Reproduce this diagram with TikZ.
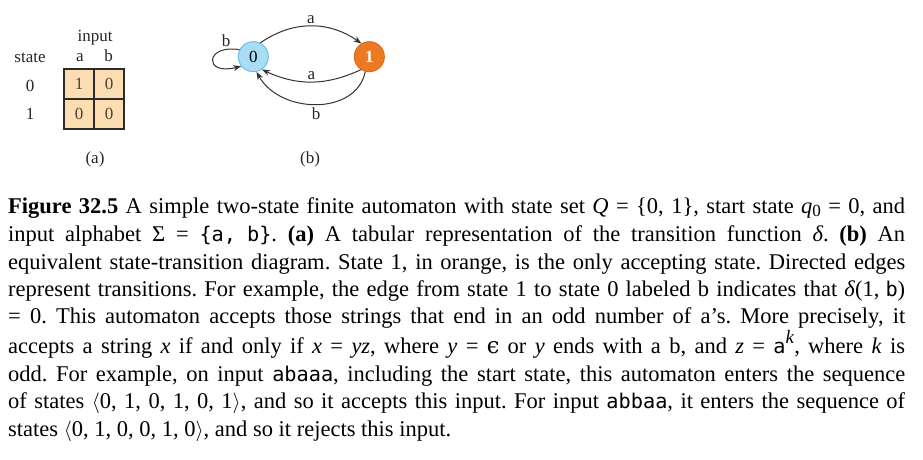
\documentclass[tikz,border=0pt]{standalone}
\usepackage{fontspec}
\setmainfont{Liberation Serif}
\newfontfamily\monof[Scale=0.9]{DejaVu Sans Mono}
\newfontfamily\epsfont{DejaVu Serif}
\usetikzlibrary{arrows.meta}
\definecolor{tablefill}{HTML}{FBDDB1}
\definecolor{gridline}{HTML}{2B2B2B}
\definecolor{celltext}{HTML}{4A4236}
\definecolor{bluefill}{HTML}{A9DDF4}
\definecolor{blueedge}{HTML}{6CC0E4}
\definecolor{orangefill}{HTML}{EC7A22}
\definecolor{orangeedge}{HTML}{DD6A18}
\definecolor{edgecol}{HTML}{333333}
\newcommand{\mono}[1]{{\monof #1}}
\newcommand{\qsub}[1]{\raisebox{-0.35ex}{\fontsize{17}{17}\selectfont #1}}
\newcommand{\kexp}[1]{\raisebox{0.9ex}{\fontsize{19}{19}\selectfont\textit{#1}}}
\newcommand{\fullline}[1]{\makebox[897pt][s]{#1}}
\frenchspacing
\begin{document}
\begin{tikzpicture}[x=1pt,y=-1pt,
  capline/.style={anchor=base west, inner sep=0pt, font=\fontsize{22.5}{27}\selectfont\frenchspacing},
  lbl/.style={anchor=base, inner sep=0pt, font=\fontsize{17}{20}\selectfont, text=black!85},
  cell/.style={draw=gridline, line width=1.6pt, fill=tablefill, minimum size=30pt, inner sep=0pt, font=\fontsize{17}{20}\selectfont, text=celltext},
  statezero/.style={circle, draw=blueedge, fill=bluefill, line width=1pt, minimum size=30pt, inner sep=0pt, font=\fontsize{17}{20}\selectfont},
  stateone/.style={circle, draw=orangeedge, fill=orangefill, line width=1pt, minimum size=30pt, inner sep=0pt, font=\fontsize{17}{20}\selectfont\bfseries, text=white},
  edge/.style={draw=edgecol, line width=1pt, -{Stealth[length=8pt,width=6pt]}},
  elbl/.style={inner sep=0pt, font=\fontsize{17}{20}\selectfont, text=black!85}
]
\useasboundingbox (0,0) rectangle (923,459);

% (a) table
\node[lbl] (input) at (95,41.5) {input};
\node[lbl] (state) at (30,62.5) {state};
\node[lbl] (ha) at (80,61) {a};
\node[lbl] (hb) at (108.5,61) {b};
\node[lbl] (r0) at (30,91.5) {0};
\node[lbl] (r1) at (30,119.5) {1};
\node[cell] (c00) at (79,84) {1};
\node[cell] (c01) at (109,84) {0};
\node[cell] (c10) at (79,114) {0};
\node[cell] (c11) at (109,114) {0};
\node[lbl] (capa) at (95,163) {(a)};

% (b) automaton
\node[statezero] (s0) at (253.3,56.7) {0};
\node[stateone] (s1) at (369.3,56.7) {1};
\draw[edge] (s0.63) to[out=35,in=145] node[elbl, midway, anchor=south, yshift=2pt] (la01) {a} (s1.121);
\draw[edge] (s1.237) to[out=205,in=-25] node[elbl, midway, anchor=south, yshift=2pt] (la10) {a} (s0.304);
\draw[edge] (s1.255) .. controls (356,116) and (280,114) .. node[elbl, midway, anchor=north, yshift=-3pt] (lb10) {b} (s0.282);
\draw[edge] (s0.153) .. controls (205,44) and (203,76) .. node[elbl, pos=0.15, anchor=south, yshift=2pt] (lb00) {b} (s0.218);
\node[lbl] (capb) at (310,163) {(b)};

% caption
\node[capline] (l1) at (8,213) {\fullline{\textbf{Figure 32.5} A simple two-state finite automaton with state set \textit{Q} = \{0, 1\}, start state \textit{q}\qsub{0} = 0, and}};
\node[capline] (l2) at (8,241.5) {\fullline{input alphabet Σ = \mono{\{a,\hspace{11pt}b\}}. \textbf{(a)} A tabular representation of the transition function \textit{δ}. \textbf{(b)} An}};
\node[capline] (l3) at (8,269) {\fullline{equivalent state-transition diagram. State 1, in orange, is the only accepting state. Directed edges}};
\node[capline] (l4) at (8,296) {\fullline{represent transitions. For example, the edge from state 1 to state 0 labeled b indicates that \textit{δ}(1,\hspace{6pt}\mono{b})}};
\node[capline] (l5) at (8,323.5) {\fullline{= 0. This automaton accepts those strings that end in an odd number of a's. More precisely, it}};
\node[capline] (l6) at (8,353) {\fullline{accepts a string \textit{x} if and only if \textit{x} = \textit{yz}, where \textit{y} = {\epsfont ϵ} or \textit{y} ends with a b, and \textit{z} = \mono{a}\kexp{k}, where \textit{k} is}};
\node[capline] (l7) at (8,381) {\fullline{odd. For example, on input \mono{abaaa}, including the start state, this automaton enters the sequence}};
\node[capline] (l8) at (8,408.5) {\fullline{of states $\langle$0, 1, 0, 1, 0, 1$\rangle$, and so it accepts this input. For input \mono{abbaa}, it enters the sequence of}};
\node[capline] (l9) at (8,436) {states $\langle$0, 1, 0, 0, 1, 0$\rangle$, and so it rejects this input.};
\end{tikzpicture}
\end{document}
